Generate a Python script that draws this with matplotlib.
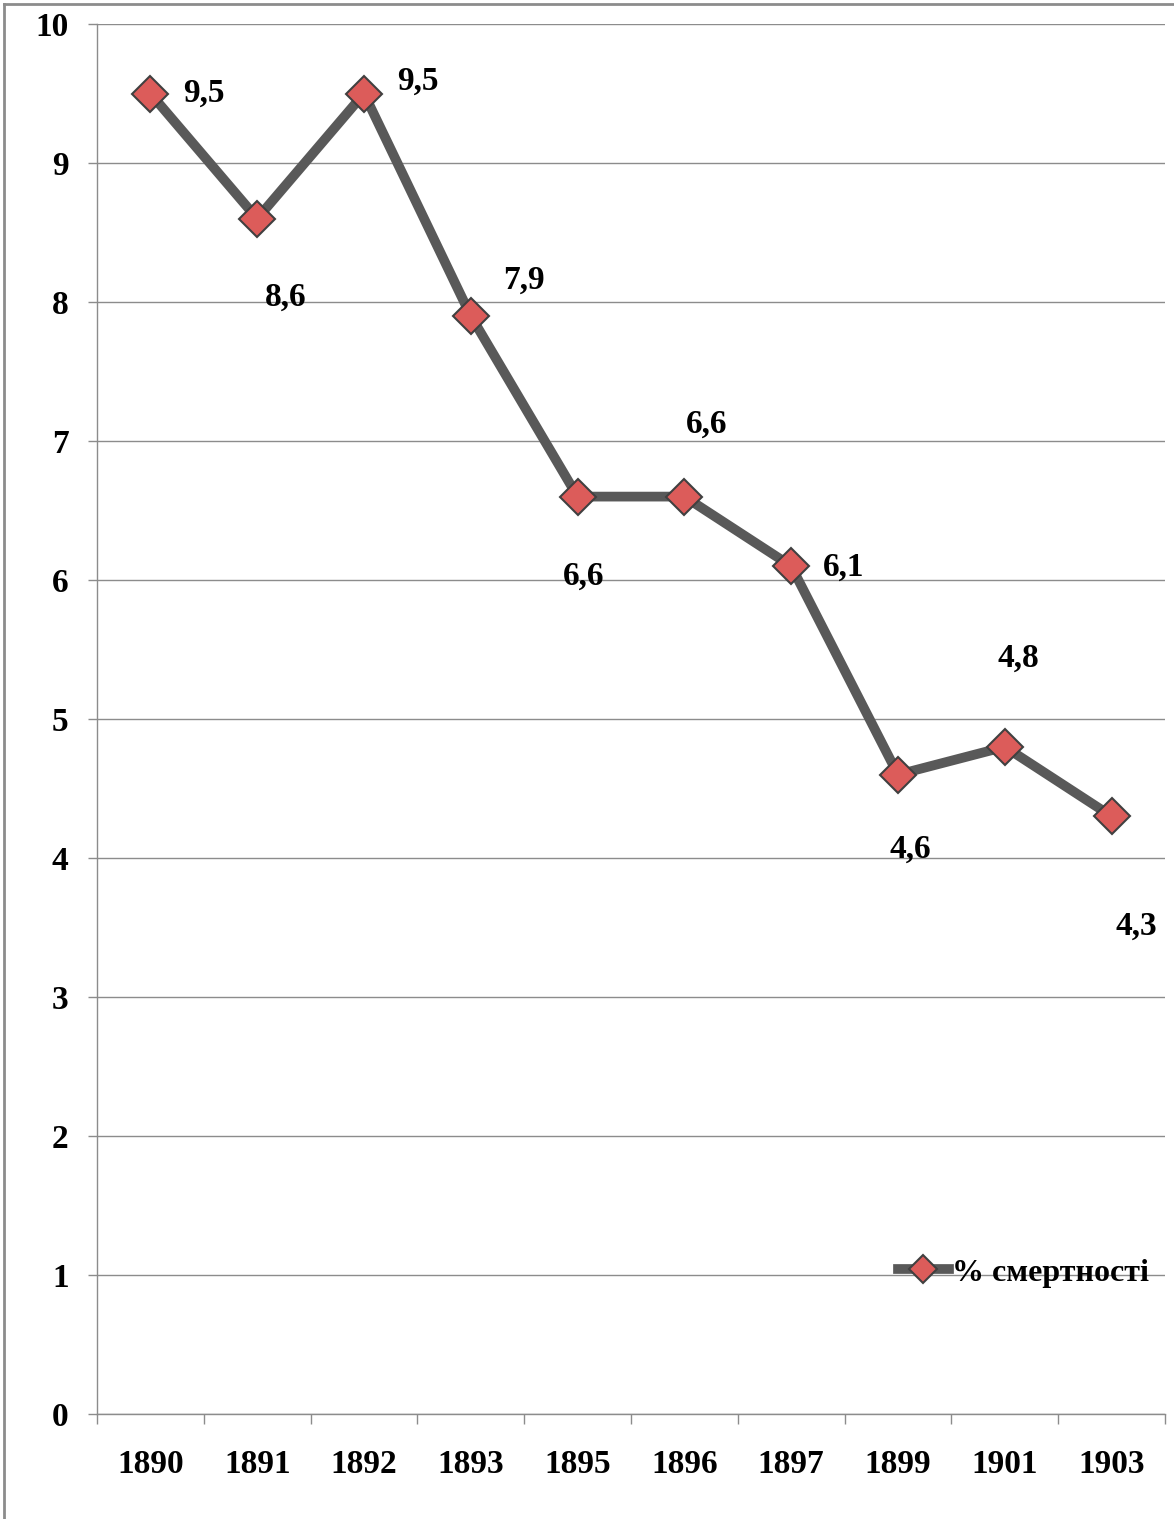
import numpy as np
import matplotlib
matplotlib.use("Agg")
import matplotlib.pyplot as plt
from matplotlib.lines import Line2D

# дані: % смертності по роках
years = ['1890', '1891', '1892', '1893', '1895', '1896', '1897', '1899', '1901', '1903']
mortality = [9.5, 8.6, 9.5, 7.9, 6.6, 6.6, 6.1, 4.6, 4.8, 4.3]
series_name = '% смертності'

# зсув підписів (пікселі) відносно точки
label_offsets = [(53, 0), (28, -79), (54, 12), (53, 36), (6, -80),
                 (22, 72), (52, -1), (12, -75), (14, 89), (25, -110)]

plt.rcParams['font.family'] = ['Liberation Serif', 'DejaVu Serif']
plt.rcParams['font.weight'] = 'bold'

fig = plt.figure(figsize=(11.74, 15.19), dpi=100)
ax = fig.add_axes([97 / 1174, 1 - 1414 / 1519, (1165 - 97) / 1174, (1414 - 24) / 1519])

x = np.arange(len(years))
ax.plot(x, mortality, color='#595959', lw=7, solid_joinstyle='miter',
        marker='D', markersize=18, markerfacecolor='#dc5c5a',
        markeredgecolor='#404040', markeredgewidth=1.5, zorder=3,
        label=series_name)

for xi, v, (dx, dy) in zip(x, mortality, label_offsets):
    ax.annotate(f"{v:.1f}".replace('.', ','), (xi, v), xytext=(dx, dy),
                textcoords='offset pixels', ha='center', va='center',
                fontsize=24, fontweight='bold', color='black')

ax.set_xlim(-0.5, len(years) - 0.5)
ax.set_ylim(0, 10)
ax.set_yticks(np.arange(0, 11, 1))
ax.set_yticklabels([str(i) for i in range(11)])
ax.set_xticks(np.arange(-0.5, len(years)), labels=[''] * (len(years) + 1))
ax.set_xticks(x, labels=years, minor=True)

ax.tick_params(axis='y', length=6.5, width=1, color='#8c8c8c', pad=14,
               labelsize=24)
ax.tick_params(axis='x', which='major', length=7, width=1, color='#8c8c8c')
ax.tick_params(axis='x', which='minor', length=0, pad=25, labelsize=24)
for lab in ax.get_xticklabels(minor=True) + ax.get_yticklabels():
    lab.set_fontweight('bold')

ax.grid(axis='y', color='#8c8c8c', lw=1)
ax.set_axisbelow(True)
for s in ['top', 'right']:
    ax.spines[s].set_visible(False)
for s in ['left', 'bottom']:
    ax.spines[s].set_color('#8c8c8c')
    ax.spines[s].set_linewidth(1)

leg = ax.legend(handles=[Line2D([], [], color='#595959', lw=7, marker='D',
                                markersize=14, markerfacecolor='#dc5c5a',
                                markeredgecolor='#404040', markeredgewidth=1.5)],
                labels=[series_name], loc='center right',
                bbox_to_anchor=(1.0, 0.1015), frameon=False, fontsize=23,
                handlelength=1.6, handletextpad=0.1, borderaxespad=0.1)
for t in leg.get_texts():
    t.set_fontweight('bold')

# рамка діаграми (видно лише зверху та зліва)
fig.add_artist(Line2D([4 / 1174, 1.0], [1 - 4 / 1519, 1 - 4 / 1519],
                      transform=fig.transFigure, color='#8c8c8c', lw=2))
fig.add_artist(Line2D([4 / 1174, 4 / 1174], [0, 1 - 4 / 1519],
                      transform=fig.transFigure, color='#8c8c8c', lw=2))

fig.savefig('out.png', dpi=100, facecolor='white')
